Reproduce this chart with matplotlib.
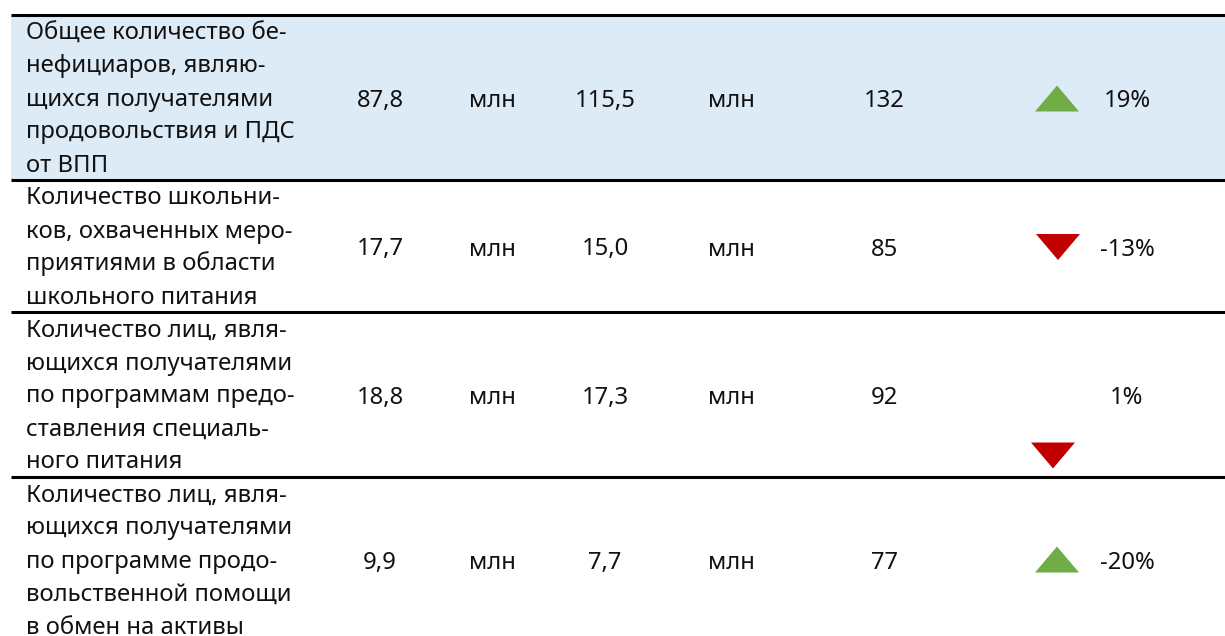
import matplotlib.pyplot as plt
from matplotlib.patches import Polygon, Rectangle

# table content
labels = [
    "Общее количество бе-\nнефициаров, являю-\nщихся получателями\nпродовольствия и ПДС\nот ВПП",
    "Количество школьни-\nков, охваченных меро-\nприятиями в области\nшкольного питания",
    "Количество лиц, явля-\nющихся получателями\nпо программам предо-\nставления специаль-\nного питания",
    "Количество лиц, явля-\nющихся получателями\nпо программе продо-\nвольственной помощи\nв обмен на активы",
]
val_prev = ["87,8", "17,7", "18,8", "9,9"]
val_curr = ["115,5", "15,0", "17,3", "7,7"]
unit = "млн"
countries = ["132", "85", "92", "77"]
change = ["19%", "-13%", "1%", "-20%"]
trend = ["up", "down", "down", "up"]

# layout (pixels)
W, H = 1225, 636
top = 15
pitch = 33
left = 11
col_x = [380, 492, 605, 731, 884]
tri_x = 1057
pct_x = 1127
tri_w, tri_h = 44, 26
tri_shift = [(0, 1), (1, 1), (-4, 61), (0, 0)]
green = "#70AD47"
red = "#C00000"
shade = "#DDEBF7"
font = dict(family="Noto Sans", fontsize=17.2, color="#111111")

fig = plt.figure(figsize=(W / 100, H / 100), dpi=100)
ax = fig.add_axes([0, 0, 1, 1])
ax.set_xlim(0, W)
ax.set_ylim(H, 0)
ax.axis("off")

y = top
bounds = [y]
for lab in labels:
    y += pitch * len(lab.split("\n"))
    bounds.append(y)

ax.add_patch(Rectangle((left, bounds[0]), W - left, bounds[1] - bounds[0],
                       facecolor=shade, edgecolor="none", zorder=0))

for i, lab in enumerate(labels):
    y0, y1 = bounds[i], bounds[i + 1]
    yc = (y0 + y1) / 2
    for j, line in enumerate(lab.split("\n")):
        ax.text(26, y0 + pitch * j + 24.5, line, ha="left", va="baseline", **font)
    row = [val_prev[i], unit, val_curr[i], unit, countries[i]]
    for x, s in zip(col_x, row):
        ax.text(x, yc + 9.5, s, ha="center", va="baseline", **font)
    ax.text(pct_x, yc + 9.5, change[i], ha="center", va="baseline", **font)

    dx, dy = tri_shift[i]
    cx, cy = tri_x + dx, yc + dy
    if trend[i] == "up":
        pts = [(cx - tri_w / 2, cy + tri_h / 2), (cx + tri_w / 2, cy + tri_h / 2), (cx, cy - tri_h / 2)]
        col = green
    else:
        pts = [(cx - tri_w / 2, cy - tri_h / 2), (cx + tri_w / 2, cy - tri_h / 2), (cx, cy + tri_h / 2)]
        col = red
    ax.add_patch(Polygon(pts, closed=True, facecolor=col, edgecolor="none", zorder=2))

for b in bounds[:-1]:
    ax.plot([left, W], [b, b], color="black", lw=2.2, solid_capstyle="butt", zorder=3)

fig.savefig("out.png", dpi=100)
